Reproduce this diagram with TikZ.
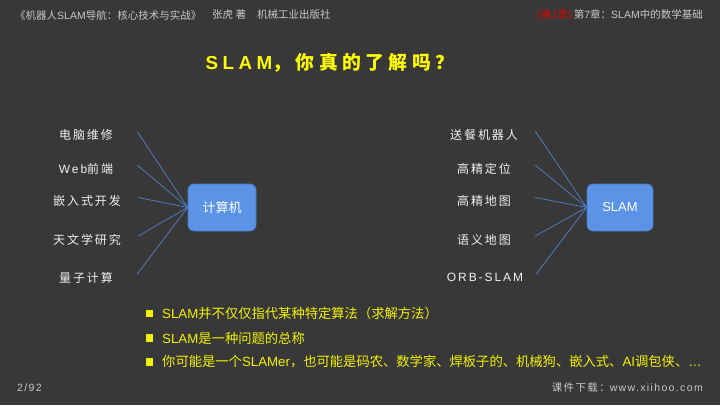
\documentclass[tikz,border=0pt]{standalone}
\usepackage{fontspec}
\setmainfont{Liberation Sans}
\newfontfamily\lat{Liberation Sans}
\newfontfamily\cjk{Noto Sans CJK SC}
\newfontfamily\cjksp[LetterSpace=16]{Noto Sans CJK SC}
\newfontfamily\latsp[LetterSpace=16]{Liberation Sans}
\newfontfamily\cjkti[LetterSpace=24]{Noto Sans CJK SC}
\newfontfamily\latti[LetterSpace=24]{Liberation Sans}
\newfontfamily\cjkft[LetterSpace=13]{Noto Sans CJK SC}
\newfontfamily\latft[LetterSpace=13]{Liberation Sans}
\definecolor{bgc}{RGB}{56,56,56}
\definecolor{hdrc}{RGB}{200,200,200}
\definecolor{labc}{RGB}{240,240,240}
\definecolor{boxfill}{RGB}{91,148,230}
\definecolor{boxline}{RGB}{72,122,200}
\definecolor{connc}{RGB}{82,128,205}
\definecolor{ttlc}{RGB}{255,255,0}
\definecolor{bulc}{RGB}{242,242,0}
\definecolor{redc}{RGB}{225,0,0}
\begin{document}
\begin{tikzpicture}[x=1pt,y=-1pt,
  lab/.style={text=labc, inner sep=0pt, minimum width=102pt, font=\fontsize{12}{14}\selectfont\cjksp},
  bigbox/.style={draw=boxline, fill=boxfill, rounded corners=6pt, minimum width=68pt, minimum height=47pt, inner sep=0pt, text=white, font=\fontsize{13}{15}\selectfont\cjk, line width=0.6pt},
  conn/.style={draw=connc, line width=0.7pt},
  hdr/.style={text=hdrc, inner sep=0pt, font=\fontsize{10.5}{12}\selectfont\cjk},
  ftr/.style={text=hdrc, inner sep=0pt, font=\fontsize{10.5}{12}\selectfont\cjkft},
  bulsq/.style={fill=bulc, minimum size=7.5pt, inner sep=0pt},
  bultxt/.style={text=bulc, inner sep=0pt, anchor=west, font=\fontsize{13.3}{15}\selectfont\cjk},
  ttl/.style={text=ttlc, inner sep=0pt, font=\fontsize{18.8}{21}\selectfont\bfseries}]
\fill[bgc] (0,0) rectangle (720,405);
\useasboundingbox (0,0) rectangle (720,405);
% header
\node[hdr, anchor=west] (h1) at (15,15) {《机器人{\lat SLAM}导航：核心技术与实战》};
\node[hdr, anchor=west] (h2) at (212,15) {张虎 著};
\node[hdr, anchor=west] (h3) at (257,15) {机械工业出版社};
\node[hdr, anchor=east] (h4) at (703,15) {{\color{redc}{\lat(}第{\lat 1}季{\lat)}}\ 第{\lat 7}章：{\lat SLAM}中的数学基础};
% title
\node[ttl] (title) at (330,63) {{\latti SLAM}{\cjkti ，你真的了解吗？}};
% left group
\node[bigbox] (c) at (222,207.5) {计算机};
\node[lab] (l1) at (86,135) {电脑维修};
\node[lab] (l2) at (86,168.5) {{\latsp Web}前端};
\node[lab] (l3) at (87,201) {嵌入式开发};
\node[lab] (l4) at (87,239.5) {天文学研究};
\node[lab] (l5) at (86,277.5) {量子计算};
\foreach \n in {l1,l2,l3,l4,l5}
  \draw[conn] ([yshift=3.5pt]\n.east) -- (c.west);
% right group
\node[bigbox, font=\fontsize{13}{15}\selectfont\lat, minimum width=66pt] (s) at (620,207.5) {SLAM};
\node[lab] (r1) at (484,134.5) {送餐机器人};
\node[lab] (r2) at (484,168.5) {高精定位};
\node[lab] (r3) at (484,201) {高精地图};
\node[lab] (r4) at (484,239.5) {语义地图};
\node[lab] (r5) at (485,277.5) {\latsp ORB-SLAM};
\foreach \n in {r1,r2,r3,r4,r5}
  \draw[conn] ([yshift=3.5pt]\n.east) -- (s.west);
% bullets
\node[bulsq] (b1) at (149.5,313.5) {};
\node[bulsq] (b2) at (149.5,338) {};
\node[bulsq] (b3) at (149.5,362) {};
\node[bultxt] (t1) at (162,313.5) {{\lat SLAM}并不仅仅指代某种特定算法（求解方法）};
\node[bultxt] (t2) at (162,338) {{\lat SLAM}是一种问题的总称};
\node[bultxt] (t3) at (162,362) {你可能是一个{\lat SLAMer}，也可能是码农、数学家、焊板子的、机械狗、嵌入式、{\lat AI}调包侠、{\lat …}};
% footer
\node[ftr, anchor=west] (f1) at (17,388) {\latft 2/92};
\node[ftr, anchor=east] (f2) at (703,388) {课件下载：{\latft www.xiihoo.com}};
\end{tikzpicture}
\end{document}
